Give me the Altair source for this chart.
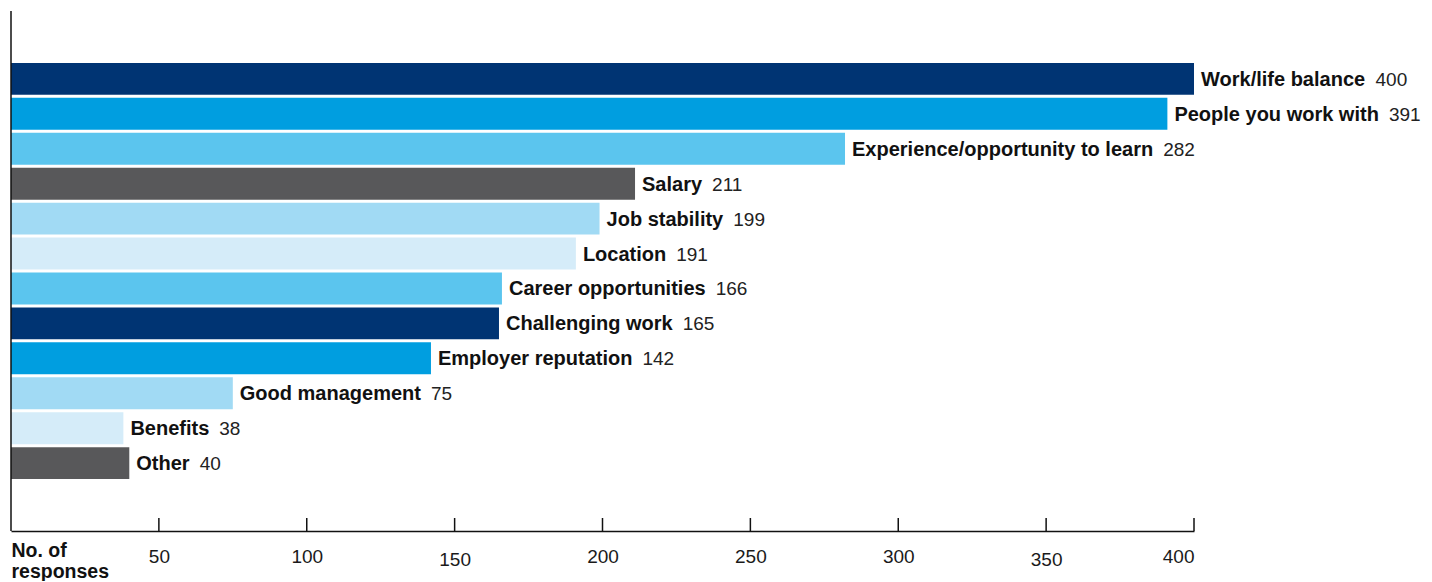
import altair as alt
import pandas as pd

categories = ["Work/life balance", "People you work with", "Experience/opportunity to learn",
              "Salary", "Job stability", "Location", "Career opportunities", "Challenging work",
              "Employer reputation", "Good management", "Benefits", "Other"]
values = [400, 391, 282, 211, 199, 191, 166, 165, 142, 75, 38, 40]
colors = ["#003473", "#009ee0", "#5bc5ee", "#58585a", "#a1daf4", "#d5ecf9",
          "#5bc5ee", "#003473", "#009ee0", "#a1daf4", "#d5ecf9", "#58585a"]
tick_values = [50, 100, 150, 200, 250, 300, 350, 400]
axis_title = ["No. of", "responses"]

FONT = "Liberation Sans"
LABEL_SIZE = 20
VALUE_SIZE = 19

# Helvetica/Arial bold advance widths (per 1000 em) to place the value after the bold label
BOLD_W = {" ": 278, "/": 278, "A": 722, "B": 722, "C": 722, "D": 722, "E": 667, "F": 611,
          "G": 778, "H": 722, "I": 278, "J": 556, "K": 722, "L": 611, "M": 833, "N": 722,
          "O": 778, "P": 667, "Q": 778, "R": 722, "S": 667, "T": 611, "U": 722, "V": 667,
          "W": 944, "X": 667, "Y": 667, "Z": 611, "a": 556, "b": 611, "c": 556, "d": 611,
          "e": 556, "f": 333, "g": 611, "h": 611, "i": 278, "j": 278, "k": 556, "l": 278,
          "m": 889, "n": 611, "o": 611, "p": 611, "q": 611, "r": 389, "s": 556, "t": 333,
          "u": 611, "v": 556, "w": 778, "x": 556, "y": 556, "z": 500}


def text_width(s, size):
    return sum(BOLD_W.get(ch, 600) for ch in s) * size / 1000.0


df = pd.DataFrame({"cat": categories, "value": values, "color": colors})
df["off"] = [7 + text_width(c, LABEL_SIZE) + 10 for c in categories]
ticks_df = pd.DataFrame({"value": tick_values})

W, H = 1183, 520

x_enc = alt.X(
    "value:Q",
    title=axis_title,
    scale=alt.Scale(domain=[0, 400], nice=False, zero=True),
    axis=alt.Axis(
        values=tick_values, ticks=False, grid=False,
        domainColor="#111", domainWidth=1.5,
        labelFont=FONT, labelFontSize=19, labelColor="#1a1a1a",
        labelPadding={"condition": {"test": "datum.value == 150 || datum.value == 350", "value": 19},
                      "value": 16},
        labelBaseline="top",
        title=axis_title, titleX=0, titleY=25, titleAlign="left", titleAnchor="start",
        titleBaseline="alphabetic", titleFont=FONT, titleFontWeight="bold",
        titleFontSize=19.5, titleLineHeight=21, titleColor="#111",
    ),
)
y_enc = alt.Y(
    "cat:N", sort=categories,
    scale=alt.Scale(range=[17, 503], paddingInner=0.086, paddingOuter=1),
    axis=None,
)

bars = alt.Chart(df).mark_bar().encode(
    x=x_enc, y=y_enc, color=alt.Color("color:N", scale=None)
)

labels = alt.Chart(df).mark_text(
    align="left", baseline="middle", dx=7, dy=1, font=FONT, fontSize=LABEL_SIZE,
    fontWeight="bold", color="#111"
).encode(x=x_enc, y=y_enc, text="cat:N")

nums = alt.Chart(df).mark_text(
    align="left", baseline="middle", dx=alt.ExprRef("datum.off"), dy=1, font=FONT,
    fontSize=VALUE_SIZE, fontWeight="normal", color="#222"
).encode(x=x_enc, y=y_enc, text="value:Q")

tick_rules = alt.Chart(ticks_df).mark_rule(color="#111", strokeWidth=1.5).encode(
    x=x_enc, y=alt.value(H - 13), y2=alt.value(H)
)

y_line = alt.Chart(pd.DataFrame({"value": [0]})).mark_rule(color="#111", strokeWidth=1.5).encode(
    x=x_enc, y=alt.value(0), y2=alt.value(H)
)

chart = alt.layer(bars, labels, nums, tick_rules, y_line).properties(
    width=W, height=H, background="white",
    padding={"left": 2, "top": 2, "right": 0, "bottom": 0},
).configure_view(stroke=None)

chart.save("out.html", embed_options={"renderer": "svg", "actions": False})
